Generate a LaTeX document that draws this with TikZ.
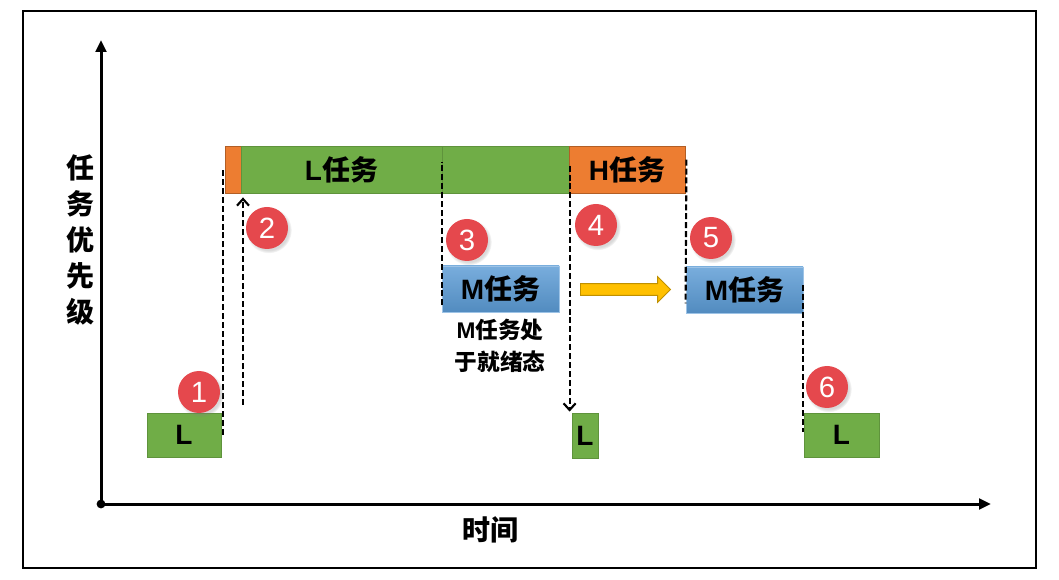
\documentclass[tikz,border=0pt]{standalone}
\usepackage{fontspec}
\setmainfont{Liberation Sans}
\newfontfamily\cjk{Noto Sans CJK SC}
\usetikzlibrary{arrows.meta,fit,calc,shadows,shapes.arrows}

\definecolor{tgreen}{RGB}{112,173,71}
\definecolor{torange}{RGB}{237,125,49}
\definecolor{tblue}{RGB}{91,155,213}
\definecolor{tred}{RGB}{229,72,77}
\definecolor{tyellow}{RGB}{255,192,0}

\newcommand{\zh}[1]{{\cjk #1}}

\begin{document}
\begin{tikzpicture}[x=0.75pt,y=0.75pt,yscale=-1,xscale=1,
	every node/.style={font=\bfseries\fontsize{21}{25}\selectfont},
	greenbox/.style={fill=tgreen, draw=tgreen!85!black, line width=0.6pt, inner sep=0pt},
	orangebox/.style={fill=torange, draw=torange!75!black, line width=0.6pt, inner sep=0pt},
	bluebox/.style={top color=tblue!82!white, bottom color=tblue!90!black, draw=tblue!60!white, line width=0.6pt, inner sep=0pt},
	badge/.style={circle, fill=tred, text=white, minimum size=31.5pt, inner sep=0pt,
		font=\mdseries\fontsize{22}{25}\selectfont,
		circular drop shadow={shadow xshift=1.2pt, shadow yshift=-1.5pt, opacity=0.3}},
	guide/.style={dash pattern=on 4.5pt off 2.2pt, line width=1.6pt},
	tip/.style={-{Straight Barb[length=5pt,width=9pt]}},
	axis/.style={line width=2.25pt}]
	\useasboundingbox (0,0) rectangle (1059,580);
	
	%Shape: Rectangle
	\draw [line width=1.9pt] (23,11) rectangle (1036,568);
	
	%Axes
	\coordinate (o) at (101,504);
	\coordinate (ytop) at (101,40);
	\coordinate (xend) at (991,504);
	\draw [axis, -{Triangle[length=9pt,width=8pt]}] (o) -- (ytop);
	\draw [axis, -{Triangle[length=9pt,width=8pt]}] (o) -- (xend);
	\fill (o) circle (3.3pt);
	
	%Task boxes
	\node [greenbox, fit={(147,413) (221,457)}, label=center:L] (l1) {};
	\node [orangebox, fit={(225,146) (241,193)}] (lo) {};
	\node [greenbox, fit={(241,146) (442,193)}, label=center:L\zh{任务}] (lt) {};
	\node [greenbox, fit={(442,146) (569,193)}] (lt2) {};
	\node [orangebox, fit={(569,146) (685,193)}, label=center:H\zh{任务}] (hh) {};
	\node [bluebox, fit={(442,266) (559,312)}, label=center:M\zh{任务}] (m1) {};
	\node [bluebox, fit={(686,267) (803,313)}, label=center:M\zh{任务}] (m2) {};
	\node [greenbox, fit={(572,413) (598,458)}, label=center:L] (l2) {};
	\node [greenbox, fit={(804,413) (879,457)}, label=center:L] (l3) {};
	
	%Right Arrow
	\node [single arrow, fill=tyellow, draw=tyellow!75!black, line width=0.6pt,
		inner sep=4.1pt, single arrow head extend=5.2pt, single arrow head indent=0pt,
		minimum height=67.5pt] (mv) at ($(m1.east)!0.5!(m2.west)$) {};
	
	%Dashed guides
	\draw [guide] ($(l1.east)+(2,0)$) -- ($(l1.east |- lo.center)+(2,0)$);
	\coordinate (a2) at (243,405);
	\draw [guide, tip] (a2) -- ($(a2 |- lt.south)+(0,4)$);
	\draw [guide] ($(m1.south west)+(0,-7)$) -- ($(m1.west |- lt.north)+(0,16)$);
	\draw [guide, tip] ($(hh.north west)+(1,20)$) -- ($(hh.west |- l2.north)+(1,-1)$);
	\draw [guide] ($(hh.north east)+(1,14)$) -- ($(m2.south west)+(0,-10)$);
	\draw [guide] ($(m2.east)+(0,-5)$) -- ($(m2.east |- l3.south)+(0,-25)$);
	
	%Badges
	\node [badge] (n1) at (199,392) {1};
	\node [badge] (n2) at (267,228) {2};
	\node [badge] (n3) at (467,240) {3};
	\node [badge] (n4) at (596,225) {4};
	\node [badge] (n5) at (711,238) {5};
	\node [badge] (n6) at (827,387) {6};
	
	% Text Node
	\node [align=center, font=\bfseries\fontsize{17}{24}\selectfont] (note) at (500,346) {M\zh{任务处}\\\zh{于就绪态}};
	% Text Node
	\node [align=center, font=\bfseries\cjk\fontsize{21}{27}\selectfont] (ylab) at (80,240) {任\\务\\优\\先\\级};
	% Text Node
	\node [font=\bfseries\cjk\fontsize{21}{25}\selectfont] (xlab) at (490,530) {时间};
\end{tikzpicture}
\end{document}
